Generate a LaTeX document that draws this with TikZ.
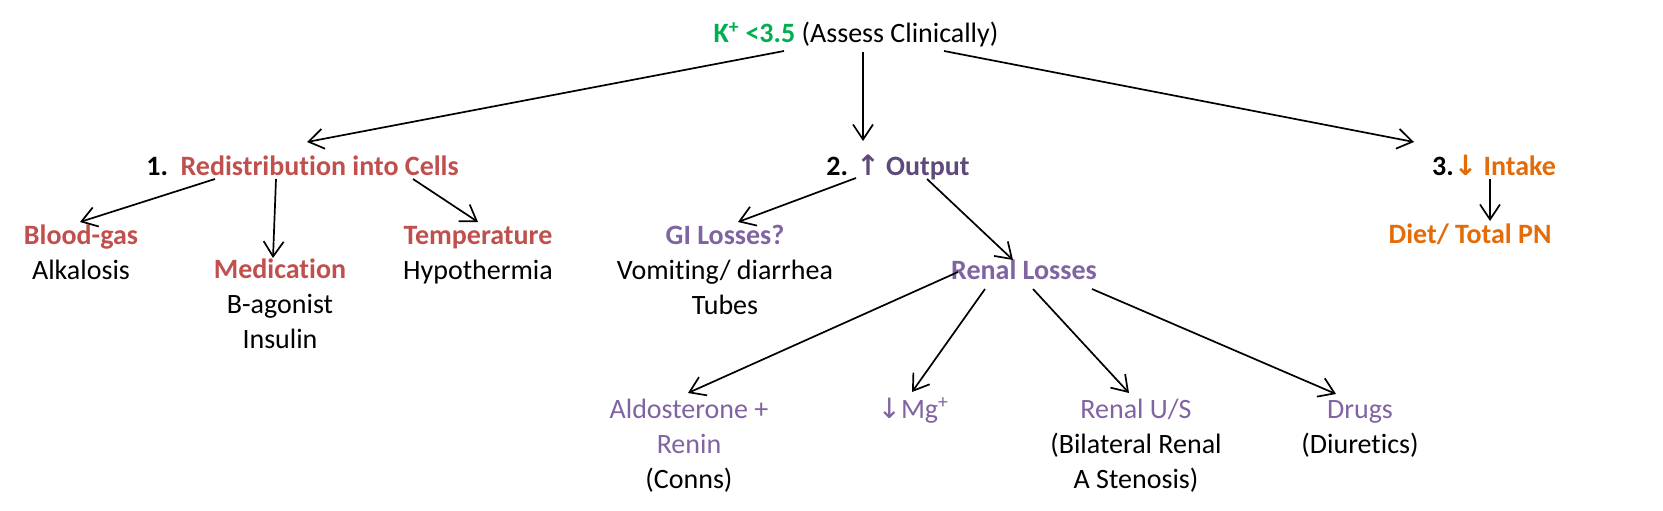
\documentclass[tikz,border=0pt]{standalone}
\usepackage{fontspec}
\setmainfont{Carlito}[Ligatures=NoCommon]
\newfontfamily\symfnt{DejaVu Sans}
\usetikzlibrary{arrows.meta,calc}
\definecolor{kgreen}{HTML}{00B050}
\definecolor{kred}{HTML}{C0504D}
\definecolor{kdpurple}{HTML}{5F497A}
\definecolor{kpurple}{HTML}{8064A2}
\definecolor{korange}{HTML}{E36C09}
\tikzset{
  lbl/.style={anchor=base, inner sep=0pt, align=center, font=\fontsize{28}{35}\selectfont},
  conn/.style={line width=1.7pt, -{Straight Barb[length=15pt,width=20pt,line width=1.7pt]}},
}
\newcommand{\upar}{{\symfnt\bfseries ↑}}
\newcommand{\dnar}{{\symfnt ↓}}
\newcommand{\dnarb}{{\symfnt\bfseries ↓}}
\begin{document}
\begin{tikzpicture}[x=1pt,y=-1pt]
\useasboundingbox[fill=white] (0,0) rectangle (1663,511);
% nodes (base anchor = baseline of the last line)
\node[lbl] (top) at (856,43) {{\bfseries\color{kgreen}K\textsuperscript{+} <3.5} (Assess Clinically)};
\node[lbl] (redis) at (302.5,175) {\bfseries 1.\hspace{0.45em}{\color{kred}Redistribution into Cells}};
\node[lbl] (output) at (898,175) {\bfseries 2. {\color{kdpurple}\upar\ Output}};
\node[lbl] (intake) at (1494,175) {\bfseries 3.{\color{korange}\dnarb\ Intake}};
\node[lbl] (blood) at (81,279) {{\bfseries\color{kred}Blood-gas}\\Alkalosis};
\node[lbl] (medic) at (280,348) {{\bfseries\color{kred}Medication}\\B-agonist\\Insulin};
\node[lbl] (temp) at (478,279) {{\bfseries\color{kred}Temperature}\\Hypothermia};
\node[lbl] (gi) at (725,314) {{\bfseries\color{kpurple}GI Losses?}\\Vomiting/ diarrhea\\Tubes};
\node[lbl] (renal) at (1024,279) {{\bfseries\color{kpurple}Renal Losses}};
\node[lbl] (diet) at (1470,243) {{\bfseries\color{korange}Diet/ Total PN}};
\node[lbl] (aldo) at (689,488) {{\color{kpurple}Aldosterone +}\\{\color{kpurple}Renin}\\(Conns)};
\node[lbl] (mg) at (913,418) {\color{kpurple}\dnar Mg\textsuperscript{+}};
\node[lbl] (us) at (1136,488) {{\color{kpurple}Renal U/S}\\(Bilateral Renal\\A Stenosis)};
\node[lbl] (drugs) at (1360,453) {{\color{kpurple}Drugs}\\(Diuretics)};
% connectors
\draw[conn] ($(top.base)+(-72,8)$) -- ($(redis.base)+(4.5,-33)$);
\draw[conn] ($(top.base)+(7,9)$) -- ($(output.base)+(-35,-34)$);
\draw[conn] ($(top.base)+(88,8)$) -- ($(intake.base)+(-80,-33)$);
\draw[conn] ($(redis.base)+(-87.5,4)$) -- ($(blood.base)+(-1,-57)$);
\draw[conn] ($(redis.base)+(-26.5,4)$) -- ($(medic.base)+(-7,-90)$);
\draw[conn] ($(redis.base)+(110.5,4)$) -- ($(temp.base)+(0,-57)$);
\draw[conn] ($(output.base)+(-42,3)$) -- ($(gi.base)+(13,-92)$);
\draw[conn] ($(output.base)+(29,4)$) -- ($(renal.base)+(-11,-19)$);
\draw[conn] ($(intake.base)+(-4,4)$) -- ($(diet.base)+(20,-22)$);
\draw[conn] ($(renal.base)+(-66,-7)$) -- ($(aldo.base)+(-1,-95)$);
\draw[conn] ($(renal.base)+(-39,10)$) -- ($(mg.base)+(-1,-26)$);
\draw[conn] ($(renal.base)+(9,10)$) -- ($(us.base)+(-7,-95)$);
\draw[conn] ($(renal.base)+(68,10)$) -- ($(drugs.base)+(-24,-59)$);
\end{tikzpicture}
\end{document}
